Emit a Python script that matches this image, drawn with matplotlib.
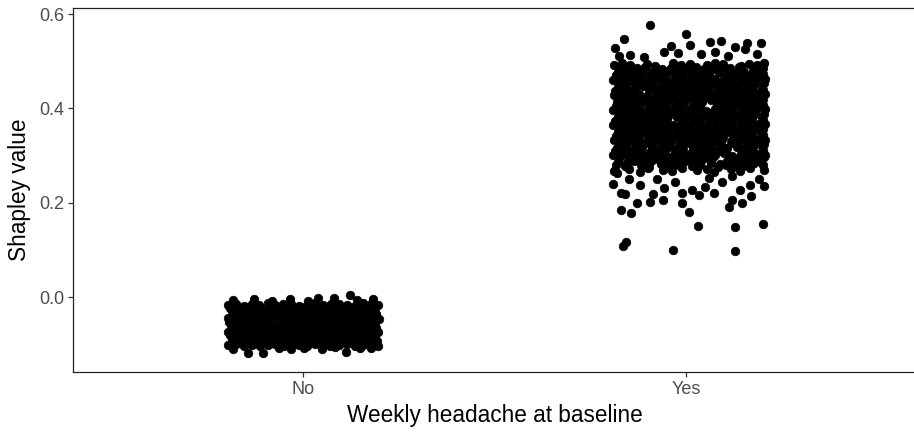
import matplotlib.pyplot as plt
from matplotlib.ticker import FormatStrFormatter

plt.rcParams['font.family'] = ['Liberation Sans', 'DejaVu Sans']

categories = ['No', 'Yes']
y_ticks = [0.0, 0.2, 0.4, 0.6]

# "No" group: jitter offset and Shapley value, read row by row off the blob
no_jitter = [
    -0.196, -0.175, -0.155, -0.133, -0.114, -0.092, -0.072, -0.051, -0.030, -0.010, 0.011, 0.032, 0.053, 0.073, 0.094, 0.115, 0.135, 0.157, 0.177, 0.197,
    -0.191, -0.170, -0.149, -0.128, -0.108, -0.087, -0.066, -0.046, -0.025, -0.004, 0.016, 0.037, 0.058, 0.078, 0.099, 0.120, 0.140, 0.161, 0.182,
    -0.186, -0.165, -0.144, -0.124, -0.103, -0.082, -0.061, -0.041, -0.020, 0.001, 0.022, 0.042, 0.063, 0.084, 0.104, 0.125, 0.146, 0.167, 0.188,
    -0.181, -0.160, -0.139, -0.118, -0.097, -0.076, -0.056, -0.035, -0.014, 0.006, 0.027, 0.048, 0.068, 0.089, 0.110, 0.130, 0.151, 0.172, 0.192,
    -0.195, -0.174, -0.154, -0.132, -0.113, -0.091, -0.071, -0.050, -0.029, -0.009, 0.012, 0.033, 0.054, 0.074, 0.095, 0.116, 0.136, 0.158, 0.178, 0.198,
    -0.192, -0.171, -0.148, -0.129, -0.107, -0.088, -0.065, -0.047, -0.024, -0.005, 0.017, 0.036, 0.059, 0.077, 0.100, 0.119, 0.141, 0.160, 0.183,
    -0.187, -0.166, -0.145, -0.123, -0.102, -0.083, -0.060, -0.040, -0.019, 0.002, 0.021, 0.043, 0.064, 0.083, 0.105, 0.126, 0.145, 0.168, 0.189,
    -0.182, -0.159, -0.140, -0.117, -0.098, -0.075, -0.057, -0.034, -0.015, 0.007, 0.026, 0.049, 0.067, 0.090, 0.109, 0.131, 0.150, 0.173, 0.191,
    -0.196, -0.176, -0.154, -0.134, -0.113, -0.093, -0.071, -0.051, -0.031, -0.010, 0.010, 0.031, 0.052, 0.073, 0.093, 0.114, 0.135, 0.156, 0.176, 0.196,
    -0.190, -0.169, -0.150, -0.127, -0.109, -0.086, -0.067, -0.045, -0.026, -0.003, 0.015, 0.038, 0.057, 0.079, 0.098, 0.121, 0.139, 0.162, 0.181,
    -0.186, -0.164, -0.144, -0.125, -0.103, -0.081, -0.061, -0.042, -0.021, 0.000, 0.021, 0.041, 0.062, 0.085, 0.104, 0.124, 0.147, 0.166, 0.187,
    -0.180, -0.161, -0.138, -0.119, -0.096, -0.077, -0.055, -0.036, -0.013, 0.005, 0.028, 0.047, 0.069, 0.088, 0.111, 0.129, 0.152, 0.171, 0.193,
    -0.195, -0.175, -0.155, -0.133, -0.112, -0.092, -0.072, -0.050, -0.030, -0.009, 0.011, 0.032, 0.053, 0.072, 0.094, 0.115, 0.136, 0.156, 0.177, 0.197,
    -0.182, -0.128, -0.080, -0.033, 0.012, 0.040, 0.082, 0.123, 0.140, 0.183,
    -0.183, -0.144, -0.105, -0.062, -0.031, 0.003, 0.050, 0.085, 0.113, 0.150, 0.178,
]
no_shap = [
    -0.017, -0.014, -0.018, -0.015, -0.016, -0.013, -0.017, -0.015, -0.014, -0.018, -0.016, -0.013, -0.017, -0.015, -0.014, -0.016, -0.018, -0.013, -0.015, -0.017,
    -0.023, -0.024, -0.022, -0.023, -0.025, -0.022, -0.024, -0.023, -0.021, -0.024, -0.023, -0.022, -0.025, -0.023, -0.024, -0.022, -0.023, -0.025, -0.022,
    -0.030, -0.032, -0.029, -0.031, -0.028, -0.033, -0.030, -0.029, -0.032, -0.031, -0.028, -0.030, -0.033, -0.029, -0.031, -0.030, -0.032, -0.028, -0.031,
    -0.037, -0.038, -0.036, -0.037, -0.039, -0.036, -0.038, -0.037, -0.035, -0.038, -0.037, -0.036, -0.039, -0.037, -0.038, -0.036, -0.037, -0.039, -0.036,
    -0.045, -0.043, -0.046, -0.044, -0.047, -0.045, -0.042, -0.046, -0.044, -0.045, -0.047, -0.043, -0.045, -0.046, -0.044, -0.043, -0.047, -0.045, -0.044, -0.046,
    -0.052, -0.053, -0.051, -0.052, -0.054, -0.051, -0.053, -0.052, -0.050, -0.053, -0.052, -0.051, -0.054, -0.052, -0.053, -0.051, -0.052, -0.054, -0.051,
    -0.059, -0.061, -0.058, -0.060, -0.057, -0.062, -0.059, -0.058, -0.061, -0.060, -0.057, -0.059, -0.062, -0.058, -0.060, -0.059, -0.061, -0.057, -0.060,
    -0.066, -0.067, -0.065, -0.066, -0.068, -0.065, -0.067, -0.066, -0.064, -0.067, -0.066, -0.065, -0.068, -0.066, -0.067, -0.065, -0.066, -0.068, -0.065,
    -0.074, -0.072, -0.075, -0.073, -0.076, -0.074, -0.071, -0.075, -0.073, -0.074, -0.076, -0.072, -0.074, -0.075, -0.073, -0.072, -0.076, -0.074, -0.073, -0.075,
    -0.081, -0.082, -0.080, -0.081, -0.083, -0.080, -0.082, -0.081, -0.079, -0.082, -0.081, -0.080, -0.083, -0.081, -0.082, -0.080, -0.081, -0.083, -0.080,
    -0.088, -0.090, -0.087, -0.089, -0.086, -0.091, -0.088, -0.087, -0.090, -0.089, -0.086, -0.088, -0.091, -0.087, -0.089, -0.088, -0.090, -0.086, -0.089,
    -0.095, -0.096, -0.094, -0.095, -0.097, -0.094, -0.096, -0.095, -0.093, -0.096, -0.095, -0.094, -0.097, -0.095, -0.096, -0.094, -0.095, -0.097, -0.094,
    -0.102, -0.100, -0.103, -0.101, -0.104, -0.102, -0.099, -0.103, -0.101, -0.102, -0.104, -0.100, -0.102, -0.103, -0.101, -0.100, -0.104, -0.102, -0.101, -0.103,
    -0.006, -0.004, -0.008, -0.005, -0.009, -0.002, -0.003, 0.004, -0.006, -0.004,
    -0.110, -0.119, -0.119, -0.109, -0.111, -0.108, -0.110, -0.107, -0.116, -0.109, -0.109,
]

# "Yes" group
yes_jitter = [
    -0.188, -0.149, -0.121, -0.100, -0.060, -0.037, -0.010, 0.028, 0.055, 0.074, 0.118, 0.140, 0.167, 0.203,
    -0.184, -0.160, -0.118, -0.096, -0.051, -0.029, 0.015, 0.037, 0.082, 0.104, 0.126, 0.148, 0.170, 0.201,
    -0.179, -0.155, -0.137, -0.111, -0.091, -0.066, -0.047, -0.022, -0.003, 0.021, 0.040, 0.066, 0.088, 0.107, 0.133, 0.152, 0.176, 0.196,
    -0.174, -0.152, -0.129, -0.107, -0.085, -0.063, -0.040, -0.018, 0.004, 0.026, 0.048, 0.070, 0.115, 0.137, 0.159, 0.181, 0.203,
    -0.191, -0.167, -0.147, -0.123, -0.103, -0.078, -0.058, -0.034, -0.014, 0.010, 0.030, 0.054, 0.075, 0.099, 0.119, 0.143, 0.163, 0.187, 0.205,
    -0.185, -0.162, -0.141, -0.118, -0.095, -0.073, -0.052, -0.029, -0.007, 0.016, 0.037, 0.058, 0.082, 0.104, 0.148, 0.171, 0.200,
    -0.180, -0.156, -0.134, -0.114, -0.089, -0.069, -0.045, -0.025, 0.019, 0.043, 0.064, 0.088, 0.108, 0.132, 0.154, 0.174, 0.198,
    -0.175, -0.151, -0.130, -0.106, -0.086, -0.062, -0.041, -0.017, 0.003, 0.027, 0.047, 0.071, 0.092, 0.116, 0.136, 0.160, 0.180, 0.203,
    -0.189, -0.169, -0.145, -0.125, -0.101, -0.080, -0.056, -0.036, -0.012, 0.008, 0.032, 0.052, 0.077, 0.097, 0.121, 0.141, 0.165, 0.185, 0.207,
    -0.184, -0.163, -0.140, -0.119, -0.096, -0.074, -0.051, -0.030, -0.007, 0.015, 0.038, 0.059, 0.081, 0.125, 0.148, 0.169, 0.201,
    -0.178, -0.158, -0.136, -0.112, -0.091, -0.067, -0.047, -0.023, -0.001, 0.021, 0.041, 0.066, 0.086, 0.110, 0.130, 0.154, 0.174, 0.196,
    -0.174, -0.153, -0.129, -0.108, -0.085, -0.064, -0.040, -0.019, 0.004, 0.025, 0.048, 0.069, 0.093, 0.114, 0.137, 0.158, 0.181, 0.202,
    -0.190, -0.167, -0.147, -0.123, -0.102, -0.078, -0.058, -0.034, -0.013, 0.009, 0.031, 0.054, 0.076, 0.098, 0.120, 0.143, 0.163, 0.187, 0.206,
    -0.185, -0.162, -0.140, -0.118, -0.097, -0.073, -0.051, -0.007, 0.015, 0.036, 0.059, 0.082, 0.104, 0.126, 0.147, 0.170, 0.200,
    -0.179, -0.157, -0.135, -0.113, -0.090, -0.068, -0.046, -0.024, -0.002, 0.020, 0.042, 0.065, 0.087, 0.109, 0.131, 0.153, 0.175, 0.197,
    -0.175, -0.152, -0.130, -0.107, -0.084, -0.063, -0.041, -0.018, 0.005, 0.026, 0.049, 0.070, 0.092, 0.115, 0.138, 0.159, 0.180, 0.203,
    -0.191, -0.168, -0.146, -0.125, -0.101, -0.079, -0.057, -0.036, -0.013, 0.010, 0.031, 0.053, 0.075, 0.098, 0.121, 0.142, 0.165, 0.186, 0.205,
    -0.184, -0.162, -0.141, -0.119, -0.096, -0.074, -0.052, -0.029, -0.008, 0.015, 0.037, 0.081, 0.103, 0.126, 0.148, 0.170, 0.201,
    -0.180, -0.156, -0.136, -0.112, -0.091, -0.067, -0.047, -0.023, -0.003, 0.021, 0.041, 0.064, 0.088, 0.108, 0.132, 0.152, 0.176, 0.196,
    -0.174, -0.151, -0.129, -0.108, -0.085, -0.062, -0.040, -0.019, 0.004, 0.027, 0.048, 0.069, 0.093, 0.115, 0.136, 0.159, 0.181, 0.202,
    -0.189, -0.168, -0.145, -0.124, -0.103, -0.079, -0.056, -0.035, -0.014, 0.009, 0.030, 0.053, 0.077, 0.097, 0.120, 0.141, 0.164, 0.187, 0.206,
    -0.185, -0.163, -0.140, -0.096, -0.073, -0.051, -0.030, -0.007, 0.016, 0.037, 0.059, 0.082, 0.104, 0.125, 0.148, 0.170, 0.200,
    -0.178, -0.157, -0.134, -0.113, -0.089, -0.068, -0.045, -0.024, -0.001, 0.020, 0.043, 0.065, 0.086, 0.109, 0.130, 0.153, 0.174, 0.197,
    -0.175, -0.152, -0.130, -0.107, -0.086, -0.063, -0.041, -0.018, 0.003, 0.026, 0.047, 0.070, 0.092, 0.116, 0.137, 0.160, 0.180, 0.203,
    -0.190, -0.169, -0.146, -0.123, -0.102, -0.080, -0.057, -0.034, -0.012, 0.010, 0.032, 0.052, 0.076, 0.099, 0.119, 0.142, 0.164, 0.185, 0.205,
    -0.184, -0.162, -0.141, -0.118, -0.095, -0.074, -0.052, -0.029, -0.007, 0.015, 0.038, 0.059, 0.103, 0.126, 0.147, 0.170, 0.201,
    -0.179, -0.156, -0.135, -0.112, -0.090, -0.067, -0.046, -0.023, -0.002, 0.021, 0.042, 0.064, 0.087, 0.110, 0.131, 0.152, 0.175, 0.196,
    -0.174, -0.152, -0.129, -0.107, -0.063, -0.040, -0.018, 0.004, 0.026, 0.048, 0.070, 0.093, 0.115, 0.137, 0.181, 0.202,
    -0.188, -0.166, -0.147, -0.101, -0.080, -0.033, -0.012, 0.011, 0.054, 0.075, 0.097, 0.143, 0.163, 0.186, 0.204,
    -0.094, -0.162, 0.000, -0.186, -0.040, -0.020, 0.063, 0.092, 0.128, 0.160, 0.196, 0.155, -0.147, -0.058, 0.010, -0.175, 0.040, 0.110, 0.185, -0.110, 0.075,
    -0.170, -0.144, 0.031, 0.128, 0.200, -0.157, -0.165, -0.034, 0.128, -0.128,
    -0.094, -0.060, -0.010, 0.008, 0.113, 0.147, 0.170, 0.204, -0.170, -0.160,
    0.034, -0.010, 0.050, 0.073, 0.120, -0.086, -0.058, -0.192, 0.016, 0.167,
    -0.120, -0.030, 0.095, 0.140, 0.190, -0.150, -0.075, 0.060, -0.180, 0.120,
]
yes_shap = [
    0.268, 0.272, 0.266, 0.273, 0.270, 0.267, 0.274, 0.269, 0.272, 0.266, 0.271, 0.268, 0.273, 0.270,
    0.279, 0.277, 0.280, 0.276, 0.278, 0.281, 0.277, 0.279, 0.276, 0.280, 0.278, 0.277, 0.280, 0.279,
    0.287, 0.284, 0.289, 0.285, 0.288, 0.283, 0.287, 0.286, 0.289, 0.284, 0.288, 0.285, 0.283, 0.288, 0.286, 0.289, 0.284, 0.287,
    0.294, 0.296, 0.293, 0.295, 0.292, 0.294, 0.297, 0.293, 0.295, 0.292, 0.294, 0.296, 0.293, 0.295, 0.292, 0.294, 0.296,
    0.301, 0.304, 0.300, 0.303, 0.299, 0.302, 0.305, 0.300, 0.303, 0.301, 0.304, 0.299, 0.302, 0.305, 0.300, 0.303, 0.301, 0.304, 0.302,
    0.310, 0.312, 0.309, 0.311, 0.308, 0.310, 0.313, 0.309, 0.311, 0.308, 0.310, 0.312, 0.309, 0.311, 0.308, 0.310, 0.312,
    0.317, 0.320, 0.316, 0.319, 0.318, 0.315, 0.320, 0.317, 0.319, 0.316, 0.318, 0.321, 0.317, 0.319, 0.316, 0.318, 0.320,
    0.326, 0.328, 0.325, 0.327, 0.324, 0.326, 0.329, 0.325, 0.327, 0.324, 0.326, 0.328, 0.325, 0.327, 0.324, 0.326, 0.328, 0.325,
    0.333, 0.336, 0.332, 0.335, 0.331, 0.334, 0.337, 0.332, 0.335, 0.333, 0.336, 0.331, 0.334, 0.337, 0.332, 0.335, 0.333, 0.336, 0.334,
    0.342, 0.344, 0.341, 0.343, 0.340, 0.342, 0.345, 0.341, 0.343, 0.340, 0.342, 0.344, 0.341, 0.343, 0.340, 0.342, 0.344,
    0.349, 0.352, 0.348, 0.351, 0.350, 0.347, 0.352, 0.349, 0.351, 0.348, 0.350, 0.353, 0.349, 0.351, 0.348, 0.350, 0.352, 0.349,
    0.358, 0.360, 0.357, 0.359, 0.356, 0.358, 0.361, 0.357, 0.359, 0.356, 0.358, 0.360, 0.357, 0.359, 0.356, 0.358, 0.360, 0.357,
    0.365, 0.368, 0.364, 0.367, 0.363, 0.366, 0.369, 0.364, 0.367, 0.365, 0.368, 0.363, 0.366, 0.369, 0.364, 0.367, 0.365, 0.368, 0.366,
    0.374, 0.376, 0.373, 0.375, 0.372, 0.374, 0.377, 0.373, 0.375, 0.372, 0.374, 0.376, 0.373, 0.375, 0.372, 0.374, 0.376,
    0.381, 0.384, 0.380, 0.383, 0.382, 0.379, 0.384, 0.381, 0.383, 0.380, 0.382, 0.385, 0.381, 0.383, 0.380, 0.382, 0.384, 0.381,
    0.390, 0.392, 0.389, 0.391, 0.388, 0.390, 0.393, 0.389, 0.391, 0.388, 0.390, 0.392, 0.389, 0.391, 0.388, 0.390, 0.392, 0.389,
    0.397, 0.400, 0.396, 0.399, 0.395, 0.398, 0.401, 0.396, 0.399, 0.397, 0.400, 0.395, 0.398, 0.401, 0.396, 0.399, 0.397, 0.400, 0.398,
    0.406, 0.408, 0.405, 0.407, 0.404, 0.406, 0.409, 0.405, 0.407, 0.404, 0.406, 0.408, 0.405, 0.407, 0.404, 0.406, 0.408,
    0.413, 0.416, 0.412, 0.415, 0.414, 0.411, 0.416, 0.413, 0.415, 0.412, 0.414, 0.417, 0.413, 0.415, 0.412, 0.414, 0.416, 0.413,
    0.422, 0.424, 0.421, 0.423, 0.420, 0.422, 0.425, 0.421, 0.423, 0.420, 0.422, 0.424, 0.421, 0.423, 0.420, 0.422, 0.424, 0.421,
    0.429, 0.432, 0.428, 0.431, 0.427, 0.430, 0.433, 0.428, 0.431, 0.429, 0.432, 0.427, 0.430, 0.433, 0.428, 0.431, 0.429, 0.432, 0.430,
    0.438, 0.440, 0.437, 0.439, 0.436, 0.438, 0.441, 0.437, 0.439, 0.436, 0.438, 0.440, 0.437, 0.439, 0.436, 0.438, 0.440,
    0.445, 0.448, 0.444, 0.447, 0.446, 0.443, 0.448, 0.445, 0.447, 0.444, 0.446, 0.449, 0.445, 0.447, 0.444, 0.446, 0.448, 0.445,
    0.454, 0.456, 0.453, 0.455, 0.452, 0.454, 0.457, 0.453, 0.455, 0.452, 0.454, 0.456, 0.453, 0.455, 0.452, 0.454, 0.456, 0.453,
    0.461, 0.464, 0.460, 0.463, 0.459, 0.462, 0.465, 0.460, 0.463, 0.461, 0.464, 0.459, 0.462, 0.465, 0.460, 0.463, 0.461, 0.464, 0.462,
    0.470, 0.472, 0.469, 0.471, 0.468, 0.470, 0.473, 0.469, 0.471, 0.468, 0.470, 0.472, 0.469, 0.471, 0.468, 0.470, 0.472,
    0.477, 0.480, 0.476, 0.479, 0.478, 0.475, 0.480, 0.477, 0.479, 0.476, 0.478, 0.481, 0.477, 0.479, 0.476, 0.478, 0.480, 0.477,
    0.486, 0.488, 0.485, 0.487, 0.484, 0.486, 0.489, 0.485, 0.487, 0.484, 0.486, 0.488, 0.485, 0.487, 0.484, 0.486,
    0.493, 0.496, 0.492, 0.495, 0.491, 0.497, 0.493, 0.495, 0.492, 0.496, 0.494, 0.491, 0.495, 0.493, 0.496,
    0.576, 0.547, 0.557, 0.528, 0.532, 0.517, 0.540, 0.542, 0.530, 0.538, 0.538, 0.525, 0.513, 0.519, 0.534, 0.512, 0.515, 0.512, 0.515, 0.510, 0.520,
    0.184, 0.178, 0.150, 0.148, 0.155, 0.117, 0.108, 0.100, 0.097, 0.199,
    0.201, 0.205, 0.199, 0.180, 0.190, 0.199, 0.214, 0.235, 0.220, 0.218,
    0.216, 0.220, 0.233, 0.220, 0.205, 0.218, 0.231, 0.240, 0.228, 0.237,
    0.238, 0.245, 0.243, 0.228, 0.250, 0.250, 0.250, 0.252, 0.262, 0.256,
]

fig = plt.figure(figsize=(9.14, 4.34), dpi=100)
ax = fig.add_axes([73 / 914, 62 / 434, 843 / 914, 364 / 434])

ax.scatter([1 + j for j in no_jitter], no_shap, s=38, c='black',
           edgecolors='black', linewidths=0.5)
ax.scatter([2 + j for j in yes_jitter], yes_shap, s=38, c='black',
           edgecolors='black', linewidths=0.5)

ax.set_xlim(0.4, 2.6)
ax.set_ylim(-0.159, 0.613)
ax.set_xticks([1, 2], categories)
ax.set_yticks(y_ticks)
ax.yaxis.set_major_formatter(FormatStrFormatter('%.1f'))

for side in ['left', 'bottom', 'top', 'right']:
    ax.spines[side].set_color('#222222')
    ax.spines[side].set_linewidth(0.9)

ax.tick_params(length=3.5, width=0.9, color='#333333', labelcolor='#4d4d4d',
               labelsize=13, pad=3)
ax.set_xlabel('Weekly headache at baseline', fontsize=16.3, labelpad=4)
ax.set_ylabel('Shapley value', fontsize=16.3, labelpad=6)

fig.savefig('out.png', dpi=100)
